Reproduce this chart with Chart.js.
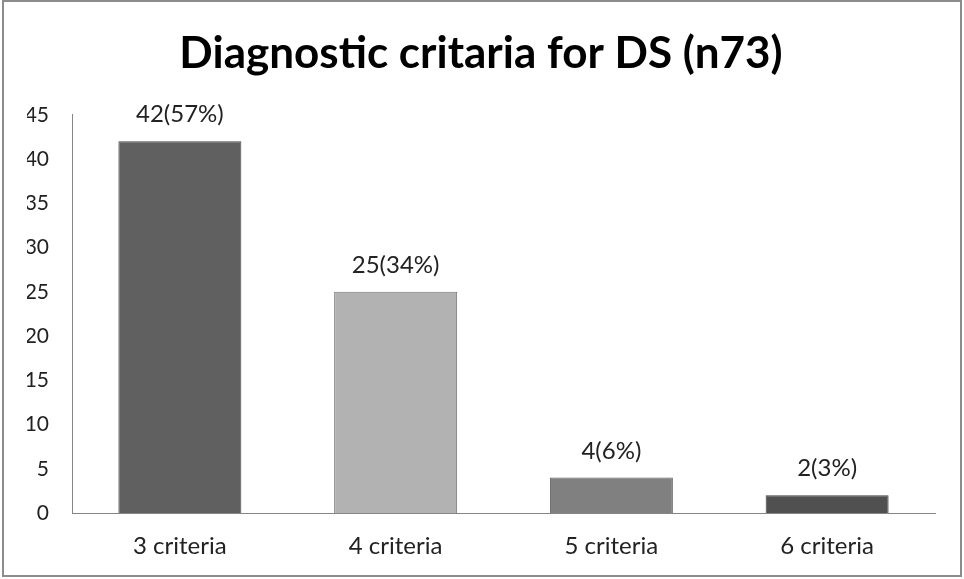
<!DOCTYPE html>
<html>
<head>
<meta charset="utf-8">
<script src="https://cdn.jsdelivr.net/npm/chart.js@4"></script>
<style>
  html, body { margin: 0; padding: 0; background: #fff; }
  #wrap {
    position: absolute; left: 2px; top: 0px;
    width: 960px; height: 577px;
    border: 2px solid #8c8c8c; box-sizing: border-box;
  }
  canvas { display: block; }
</style>
</head>
<body>
<div id="wrap"><canvas id="chart" width="956" height="573"></canvas></div>
<script>
// categories and values
const categories = ["3 criteria", "4 criteria", "5 criteria", "6 criteria"];
const counts = [42, 25, 4, 2];
const labelsAbove = ["42(57%)", "25(34%)", "4(6%)", "2(3%)"];
const yTicks = [0, 5, 10, 15, 20, 25, 30, 35, 40, 45];

// bar fill colours
const barColors = ["#606060", "#b2b2b2", "#808080", "#505050"];
const barBorders = ["#4a4a4a", "#7a7a7a", "#5e5e5e", "#3e3e3e"];

const FONT = "Lato, 'Open Sans', sans-serif";

//draw the value text above each bar
const valueLabels = {
  id: "valueLabels",
  afterDatasetsDraw(chart) {
    const ctx = chart.ctx;
    const meta = chart.getDatasetMeta(0);
    ctx.save();
    ctx.font = "24px " + FONT;
    ctx.fillStyle = "#222";
    ctx.textAlign = "center";
    ctx.textBaseline = "alphabetic";
    meta.data.forEach((bar, i) => {
      ctx.fillText(labelsAbove[i], bar.x, bar.y - 19);
    });
    ctx.restore();
  }
};

new Chart(document.getElementById("chart"), {
  type: "bar",
  plugins: [valueLabels],
  data: {
    labels: categories,
    datasets: [{
      data: counts,
      backgroundColor: barColors,
      borderColor: barBorders,
      borderWidth: 1,
      categoryPercentage: 1,
      barPercentage: 0.57
    }]
  },
  options: {
    responsive: false,
    animation: false,
    layout: { padding: { left: 23, right: 25, top: 0, bottom: 0 } },
    plugins: {
      legend: { display: false },
      tooltip: { enabled: false },
      title: {
        display: true,
        text: "Diagnostic critaria for DS (n73)",
        color: "#000",
        font: { family: FONT, size: 44, weight: "bold" },
        padding: { top: 25, bottom: 35 }
      }
    },
    scales: {
      x: {
        afterFit(scale) { scale.height = 62; },
        grid: { display: false, drawTicks: false },
        border: { color: "#868686", width: 1 },
        ticks: { color: "#222", font: { family: FONT, size: 24 }, padding: 19 }
      },
      y: {
        min: 0,
        max: 45,
        afterFit(scale) { scale.width = 45; },
        afterBuildTicks(scale) { scale.ticks = yTicks.map(v => ({ value: v })); },
        grid: { display: false, drawTicks: false },
        border: { color: "#868686", width: 1 },
        ticks: { color: "#222", font: { family: FONT, size: 21 }, padding: 23 }
      }
    }
  }
});
</script>
</body>
</html>
